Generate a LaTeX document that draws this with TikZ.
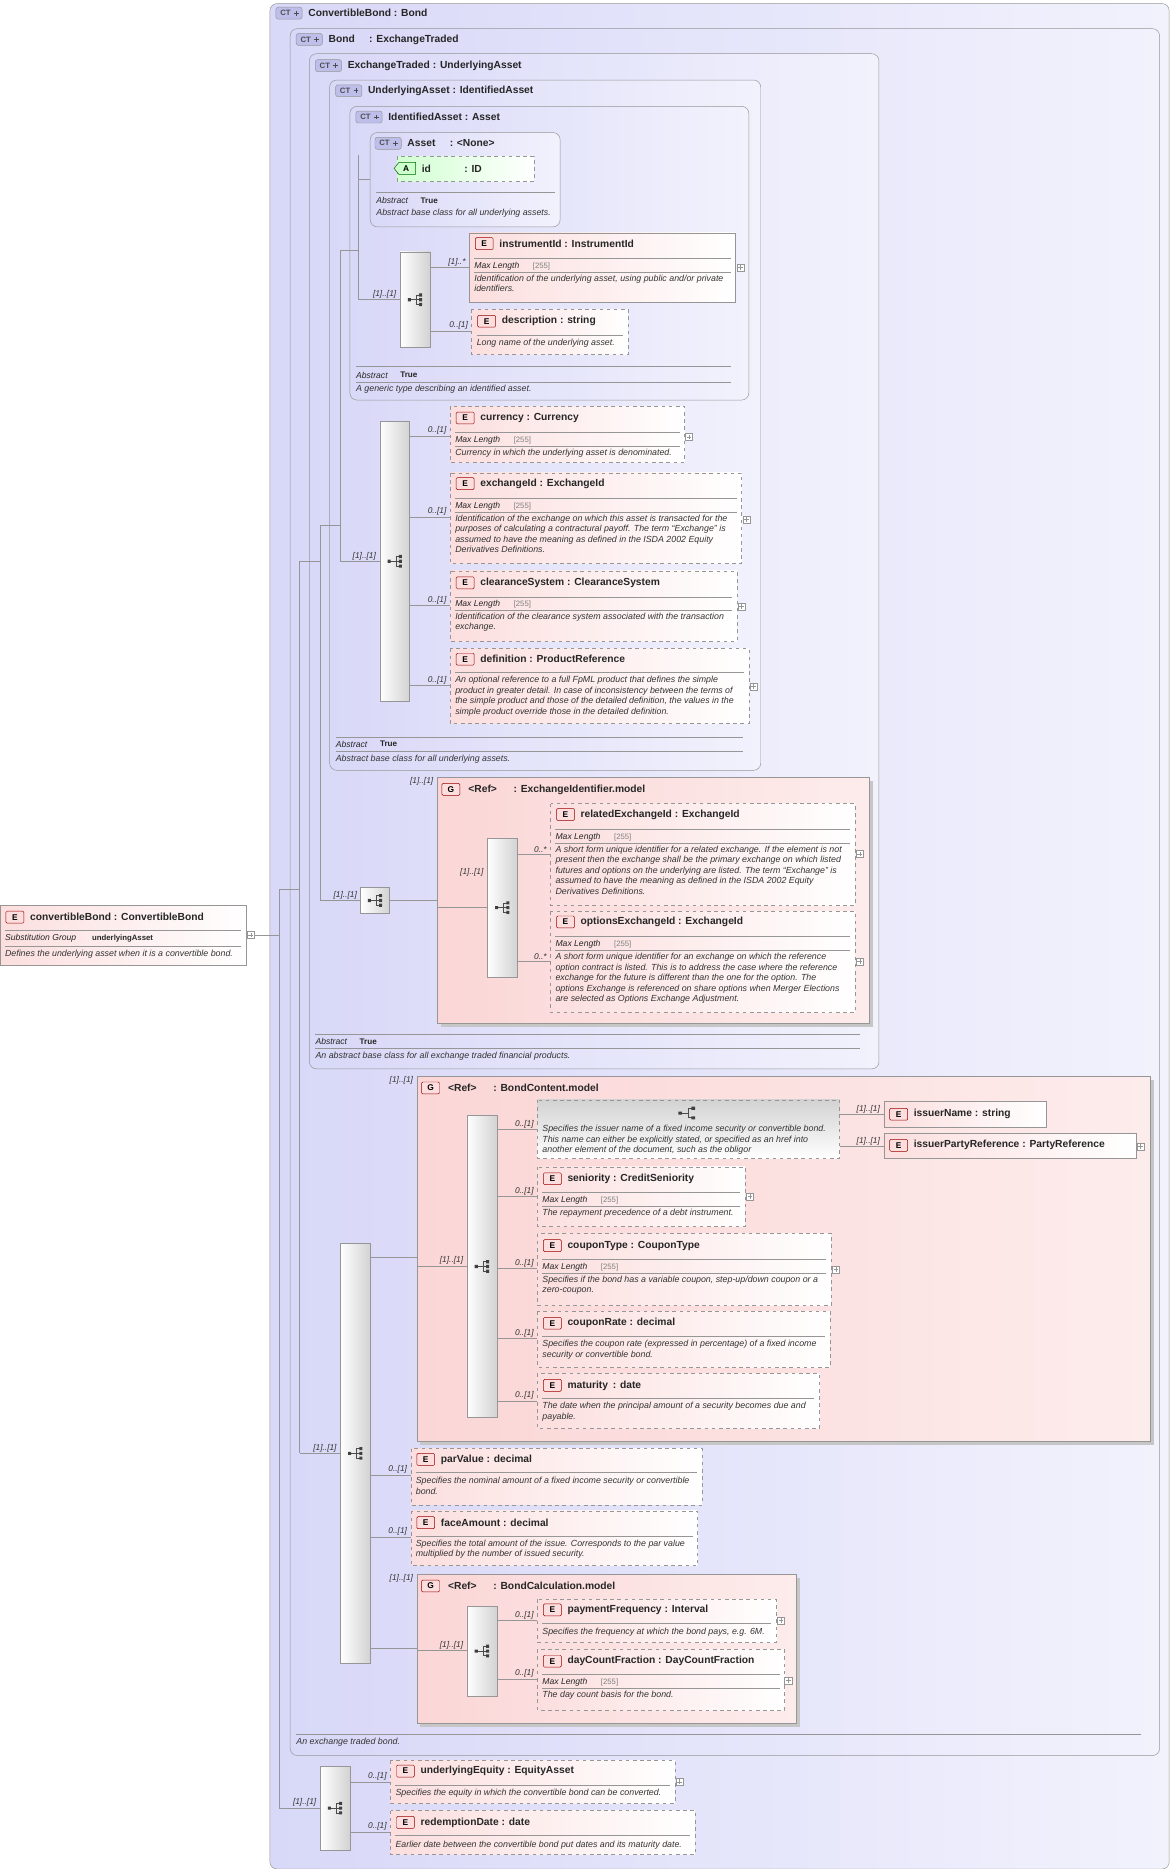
\documentclass[tikz,border=0pt]{standalone}
\usepackage{fontspec}
\setmainfont{Liberation Sans}
\begin{document}
\definecolor{ctl}{RGB}{216,216,248}
\definecolor{ctr}{RGB}{242,242,253}
\definecolor{epk}{RGB}{252,222,222}
\definecolor{gpl}{RGB}{251,214,214}
\definecolor{gpr}{RGB}{253,236,236}
\definecolor{lnc}{RGB}{150,150,150}
\definecolor{ctb}{RGB}{190,190,235}
\tikzset{
 ct/.style={draw=lnc,rounded corners=6pt,left color=ctl,right color=ctr},
 elem/.style={draw=lnc,dashed,left color=epk,right color=white},
 relem/.style={draw=lnc,left color=epk,right color=white},
 grp/.style={draw=lnc,left color=gpl,right color=gpr},
 seq/.style={draw=lnc,left color=white,right color=gray!35},
 conn/.style={draw=lnc,line width=0.5pt},
 ttl/.style={anchor=west,inner sep=0pt,font=\fontsize{8.6}{10}\selectfont\bfseries,text=black!85},
 dsc/.style={anchor=north west,inner sep=0pt,align=left,font=\fontsize{7.4}{8.8}\selectfont\itshape,text=black!80},
 card/.style={anchor=south east,inner sep=1pt,font=\fontsize{7}{8}\selectfont\itshape,text=black!80},
 small/.style={anchor=west,inner sep=0pt,font=\fontsize{7.2}{8}\selectfont\itshape,text=black!85},
}
\newcommand{\xeb}[5]{\draw[elem] (#2,#3) rectangle (#4,#5); \coordinate (#1) at (#2,#3);}
\newcommand{\xrb}[5]{\draw[relem] (#2,#3) rectangle (#4,#5); \coordinate (#1) at (#2,#3);}
\newcommand{\xet}[4]{%
 \draw[draw=red!60!black,fill=epk,rounded corners=1pt] (#2+5,#3-5) rectangle (#2+20,#3+5);
 \node[inner sep=0pt,font=\fontsize{7}{8}\selectfont\bfseries] at (#2+12.5,#3) {E};
 \node[ttl] (#1) at (#2+25,#3) {#4};}
\newcommand{\xer}[3]{\draw[lnc,line width=0.4pt] (#1,#3) -- (#2,#3);}
\newcommand{\xmx}[3]{\node[small] at (#1,#3) {Max Length}; \node[small,font=\fontsize{6.5}{7}\selectfont,text=gray] at (#1+49,#3) {[255]}; \xer{#1}{#2}{#3+5}}
\newcommand{\xab}[2]{\node[small] at (#1,#2) {Abstract}; \node[small,font=\fontsize{6.8}{7}\selectfont\bfseries] at (#1+37,#2) {True};}
\newcommand{\xpl}[2]{\draw[lnc,fill=white] (#1-3,#2-3) rectangle (#1+3,#2+3); \draw[lnc] (#1-2,#2) -- (#1+2,#2) (#1,#2-2) -- (#1,#2+2);}
\newcommand{\xsi}[2]{%
 \draw[black!70,line width=0.6pt] (#1-5,#2) -- (#1+1,#2) (#1+1,#2-4) -- (#1+1,#2+4) (#1+1,#2-4) -- (#1+4,#2-4) (#1+1,#2+4) -- (#1+4,#2+4) (#1+1,#2) -- (#1+4,#2);
 \fill[black!75] (#1-6,#2-1.3) rectangle (#1-3.4,#2+1.3) (#1+3.5,#2-5.3) rectangle (#1+6,#2-2.7) (#1+3.5,#2-1.3) rectangle (#1+6,#2+1.3) (#1+3.5,#2+2.7) rectangle (#1+6,#2+5.3);}
\newcommand{\xsq}[5]{\draw[seq] (#2,#3) rectangle (#4,#5); \pgfmathsetmacro\qcx{(#2+#4)/2}\pgfmathsetmacro\qcy{(#3+#5)/2}\coordinate (#1) at (\qcx,\qcy); \xsi{\qcx}{\qcy}}
\newcommand{\xch}[3]{%
 \draw[draw=lnc,fill=ctb,rounded corners=2pt] (#2,#3-5) rectangle (#2+22,#3+5);
 \node[inner sep=0pt,font=\fontsize{6.5}{7}\selectfont\bfseries,text=black!70] at (#2+8,#3) {CT};
 \draw[black!70,line width=0.5pt] (#2+15,#3) -- (#2+19,#3) (#2+17,#3-2) -- (#2+17,#3+2);
 \node[ttl] at (#2+27,#3) {#1};}
\newcommand{\xgh}[3]{%
 \draw[draw=red!60!black,fill=epk,rounded corners=1pt] (#1+4,#2-5) rectangle (#1+19,#2+5);
 \node[inner sep=0pt,font=\fontsize{7}{8}\selectfont\bfseries] at (#1+11.5,#2) {G};
 \node[ttl] at (#1+26,#2) {#3};}
\newcommand{\xln}[4]{\draw[conn] (#1,#2) -- (#3,#4);}
\begin{tikzpicture}[x=1pt,y=-1pt]
\useasboundingbox (0,0) rectangle (981,1565);
% containers
\draw[ct] (226,3) rectangle (979,1565); \xch{ConvertibleBond : Bond}{231}{11}
\draw[ct] (243,24) rectangle (971,1470); \xch{Bond\hspace{12pt}: ExchangeTraded}{248}{33}
\draw[ct] (259,45) rectangle (736,895); \xch{ExchangeTraded : UnderlyingAsset}{264}{55}
\draw[ct] (276,67) rectangle (637,645); \xch{UnderlyingAsset : IdentifiedAsset}{281}{76}
\draw[ct] (293,89) rectangle (627,335); \xch{IdentifiedAsset : Asset}{298}{98}
\draw[ct] (310,111) rectangle (469,190); \xch{Asset\hspace{12pt}: <None>}{314}{120}
% attribute id
\draw[draw=lnc,dashed,left color=green!18,right color=white] (333,131) rectangle (447,152);
\draw[draw=green!40!black,fill=green!20] (330,141) -- (334,136) -- (348,136) -- (348,146) -- (334,146) -- cycle;
\node[inner sep=0pt,font=\fontsize{7}{8}\selectfont\bfseries] at (340,141) {A};
\node[ttl] (id) at (353,141) {id\hspace{28pt}: ID};
\xer{315}{465}{161} \xab{315}{168} \node[dsc] at (315,175) {Abstract base class for all underlying assets.};
% IdentifiedAsset seq
\xsq{sIA}{335}{211}{360}{291}
\xrb{eInst}{393}{195}{616}{253} \xet{tInst}{393}{204}{instrumentId : InstrumentId}
\xer{397}{612}{216} \xmx{397}{612}{223} \node[dsc] at (397,230) {Identification of the underlying asset, using public and/or private\\identifiers.}; \xpl{620}{224}
\xeb{eDesc}{395}{259}{526}{297} \xet{tDesc}{395}{269}{description : string}
\xer{399}{522}{281} \node[dsc] at (399,284) {Long name of the underlying asset.};
\xln{360}{224}{393}{224} \node[card] at (391,224) {[1]..*};
\xln{360}{277}{395}{277} \node[card] at (393,277) {0..[1]};
\xer{298}{612}{307} \xab{298}{314} \xer{298}{612}{320} \node[dsc] at (298,322) {A generic type describing an identified asset.};
% UnderlyingAsset seq
\xsq{sUA}{318}{353}{343}{587}
\xeb{eCur}{377}{340}{573}{387} \xet{tCur}{377}{350}{currency : Currency}
\xer{381}{569}{362} \xmx{381}{569}{369} \node[dsc] at (381,376) {Currency in which the underlying asset is denominated.}; \xpl{577}{366}
\xeb{eExc}{377}{396}{621}{472} \xet{tExc}{377}{405}{exchangeId : ExchangeId}
\xer{381}{617}{417} \xmx{381}{617}{424} \node[dsc] at (381,431) {Identification of the exchange on which this asset is transacted for the\\purposes of calculating a contractural payoff. The term “Exchange” is\\assumed to have the meaning as defined in the ISDA 2002 Equity\\Derivatives Definitions.}; \xpl{625}{435}
\xeb{eClr}{377}{478}{617}{537} \xet{tClr}{377}{488}{clearanceSystem : ClearanceSystem}
\xer{381}{613}{500} \xmx{381}{613}{506} \node[dsc] at (381,513) {Identification of the clearance system associated with the transaction\\exchange.}; \xpl{621}{508}
\xeb{eDef}{377}{543}{627}{606} \xet{tDef}{377}{552}{definition : ProductReference}
\xer{381}{623}{563} \node[dsc] at (381,566) {An optional reference to a full FpML product that defines the simple\\product in greater detail. In case of inconsistency between the terms of\\the simple product and those of the detailed definition, the values in the\\simple product override those in the detailed definition.}; \xpl{631}{575}
\xln{343}{365}{377}{365} \node[card] at (375,365) {0..[1]};
\xln{343}{433}{377}{433} \node[card] at (375,433) {0..[1]};
\xln{343}{507}{377}{507} \node[card] at (375,507) {0..[1]};
\xln{343}{574}{377}{574} \node[card] at (375,574) {0..[1]};
\xer{281}{622}{617} \xab{281}{623} \xer{281}{622}{629} \node[dsc] at (281,632) {Abstract base class for all underlying assets.};
% ExchangeIdentifier group
\fill[gray!45] (369,654) rectangle (731,860);
\draw[grp] (366,651) rectangle (728,857); \xgh{366}{661}{<Ref>\hspace{14pt}: ExchangeIdentifier.model}
\node[card] at (364,659) {[1]..[1]};
\xsq{sET}{302}{743}{326}{765}
\xsq{sEI}{408}{702}{433}{818}
\xln{326}{754}{366}{754}
\xln{366}{760}{408}{760} \node[card] at (406,735) {[1]..[1]};
\xeb{eRel}{461}{673}{716}{758} \xet{tRel}{461}{682}{relatedExchangeId : ExchangeId}
\xer{465}{712}{694} \xmx{465}{712}{701} \node[dsc] at (465,708) {A short form unique identifier for a related exchange. If the element is not\\present then the exchange shall be the primary exchange on which listed\\futures and options on the underlying are listed. The term “Exchange” is\\assumed to have the meaning as defined in the ISDA 2002 Equity\\Derivatives Definitions.}; \xpl{720}{715}
\xeb{eOpt}{461}{763}{716}{848} \xet{tOpt}{461}{772}{optionsExchangeId : ExchangeId}
\xer{465}{712}{784} \xmx{465}{712}{791} \node[dsc] at (465,798) {A short form unique identifier for an exchange on which the reference\\option contract is listed. This is to address the case where the reference\\exchange for the future is different than the one for the option. The\\options Exchange is referenced on share options when Merger Elections\\are selected as Options Exchange Adjustment.}; \xpl{720}{805}
\xln{433}{715}{461}{715} \node[card] at (459,715) {0..*};
\xln{433}{805}{461}{805} \node[card] at (459,805) {0..*};
\xer{264}{720}{866} \xab{264}{872} \xer{264}{720}{878} \node[dsc] at (264,881) {An abstract base class for all exchange traded financial products.};
% BondContent group
\fill[gray!45] (352,904) rectangle (966,1210);
\draw[grp] (349,901) rectangle (963,1207); \xgh{349}{911}{<Ref>\hspace{14pt}: BondContent.model}
\node[card] at (347,909) {[1]..[1]};
\xsq{sBC}{391}{934}{416}{1187}
\draw[draw=lnc,dashed,top color=gray!35,bottom color=white] (450,921) rectangle (703,970); \coordinate (cho) at (450,945);
\draw[black!70,line width=0.6pt] (571,932) -- (576,932) (576,928) -- (576,936) (576,928) -- (580,928) (576,936) -- (580,936);
\fill[black!75] (568,930.7) rectangle (571,933.3) (579,926.7) rectangle (582,929.3) (579,934.7) rectangle (582,937.3);
\node[dsc] at (454,942) {Specifies the issuer name of a fixed income security or convertible bond.\\This name can either be explicitly stated, or specified as an href into\\another element of the document, such as the obligor};
\xrb{eIN}{740}{922}{876}{944} \xet{tIN}{740}{933}{issuerName : string}
\xrb{eIP}{740}{949}{951}{970} \xet{tIP}{740}{959}{issuerPartyReference : PartyReference} \xpl{955}{960}
\xln{703}{933}{740}{933} \node[card] at (738,933) {[1]..[1]};
\xln{703}{960}{740}{960} \node[card] at (738,960) {[1]..[1]};
\xeb{eSen}{450}{977}{624}{1027} \xet{tSen}{450}{987}{seniority : CreditSeniority}
\xer{454}{620}{998} \xmx{454}{620}{1005} \node[dsc] at (454,1012) {The repayment precedence of a debt instrument.}; \xpl{628}{1002}
\xeb{eCT}{450}{1033}{696}{1093} \xet{tCT}{450}{1043}{couponType : CouponType}
\xer{454}{692}{1054} \xmx{454}{692}{1061} \node[dsc] at (454,1068) {Specifies if the bond has a variable coupon, step-up/down coupon or a\\zero-coupon.}; \xpl{700}{1063}
\xeb{eCR}{450}{1098}{695}{1145} \xet{tCR}{450}{1108}{couponRate : decimal}
\xer{454}{691}{1119} \node[dsc] at (454,1122) {Specifies the coupon rate (expressed in percentage) of a fixed income\\security or convertible bond.};
\xeb{eMat}{450}{1150}{686}{1196} \xet{tMat}{450}{1160}{maturity\hspace{4pt}: date}
\xer{454}{682}{1171} \node[dsc] at (454,1174) {The date when the principal amount of a security becomes due and\\payable.};
\xln{416}{946}{450}{946} \node[card] at (448,946) {0..[1]};
\xln{416}{1002}{450}{1002} \node[card] at (448,1002) {0..[1]};
\xln{416}{1062}{450}{1062} \node[card] at (448,1062) {0..[1]};
\xln{416}{1121}{450}{1121} \node[card] at (448,1121) {0..[1]};
\xln{416}{1173}{450}{1173} \node[card] at (448,1173) {0..[1]};
% Bond seq
\xsq{sB}{285}{1041}{310}{1393}
\xln{310}{1053}{349}{1053} \xln{349}{1060}{391}{1060} \node[card] at (389,1060) {[1]..[1]};
\xeb{ePV}{344}{1213}{588}{1260} \xet{tPV}{344}{1222}{parValue : decimal}
\xer{348}{584}{1233} \node[dsc] at (348,1237) {Specifies the nominal amount of a fixed income security or convertible\\bond.};
\xeb{eFA}{344}{1265}{584}{1311} \xet{tFA}{344}{1275}{faceAmount : decimal}
\xer{348}{580}{1286} \node[dsc] at (348,1289) {Specifies the total amount of the issue. Corresponds to the par value\\multiplied by the number of issued security.};
\xln{310}{1235}{344}{1235} \node[card] at (342,1235) {0..[1]};
\xln{310}{1287}{344}{1287} \node[card] at (342,1287) {0..[1]};
% BondCalculation group
\fill[gray!45] (352,1321) rectangle (670,1446);
\draw[grp] (349,1318) rectangle (667,1443); \xgh{349}{1328}{<Ref>\hspace{14pt}: BondCalculation.model}
\node[card] at (347,1326) {[1]..[1]};
\xln{310}{1380}{349}{1380}
\xsq{sBK}{391}{1345}{416}{1420}
\xln{349}{1382}{391}{1382} \node[card] at (389,1382) {[1]..[1]};
\xeb{ePF}{450}{1339}{650}{1375} \xet{tPF}{450}{1348}{paymentFrequency : Interval}
\xer{454}{646}{1359} \node[dsc] at (454,1363) {Specifies the frequency at which the bond pays, e.g. 6M.}; \xpl{654}{1357}
\xeb{eDC}{450}{1381}{657}{1432} \xet{tDC}{450}{1391}{dayCountFraction : DayCountFraction}
\xer{454}{653}{1402} \xmx{454}{653}{1409} \node[dsc] at (454,1416) {The day count basis for the bond.}; \xpl{660}{1407}
\xln{416}{1357}{450}{1357} \node[card] at (448,1357) {0..[1]};
\xln{416}{1406}{450}{1406} \node[card] at (448,1406) {0..[1]};
\xer{248}{955}{1452} \node[dsc] at (248,1455) {An exchange traded bond.};
% ConvertibleBond seq
\xsq{sCB}{268}{1479}{293}{1549}
\xeb{eUE}{327}{1474}{565}{1510} \xet{tUE}{327}{1483}{underlyingEquity : EquityAsset}
\xer{331}{561}{1495} \node[dsc] at (331,1498) {Specifies the equity in which the convertible bond can be converted.}; \xpl{569}{1492}
\xeb{eRD}{327}{1516}{582}{1553} \xet{tRD}{327}{1526}{redemptionDate : date}
\xer{331}{578}{1537} \node[dsc] at (331,1541) {Earlier date between the convertible bond put dates and its maturity date.};
\xln{293}{1492}{327}{1492} \node[card] at (325,1492) {0..[1]};
\xln{293}{1534}{327}{1534} \node[card] at (325,1534) {0..[1]};
% left element
\draw[draw=lnc,left color=epk,right color=white] (0,758) rectangle (206,808); \coordinate (eCB) at (206,783);
\xet{tCB}{0}{768}{convertibleBond : ConvertibleBond}
\xer{4}{202}{779} \node[small] at (4,786) {Substitution Group}; \node[small,font=\fontsize{6.5}{7}\selectfont\bfseries] at (77,786) {underlyingAsset};
\xer{4}{202}{792} \node[dsc] at (4,795) {Defines the underlying asset when it is a convertible bond.}; \xpl{210}{783}
% trunk lines
\xln{213}{783}{234}{783}
\xln{234}{745}{234}{1514} \xln{234}{1514}{268}{1514} \node[card] at (266,1514) {[1]..[1]};
\xln{234}{745}{251}{745}
\xln{251}{470}{251}{1217} \xln{251}{1217}{285}{1217} \node[card] at (283,1217) {[1]..[1]};
\xln{251}{470}{268}{470}
\xln{268}{440}{268}{754} \xln{268}{754}{302}{754} \node[card] at (300,754) {[1]..[1]};
\xln{268}{440}{285}{440}
\xln{285}{210}{285}{470} \xln{285}{470}{318}{470} \node[card] at (316,470) {[1]..[1]};
\xln{285}{210}{300}{210}
\xln{300}{130}{300}{251} \xln{300}{251}{335}{251} \node[card] at (333,251) {[1]..[1]};
\xln{300}{150}{310}{150}
\end{tikzpicture}
\end{document}
